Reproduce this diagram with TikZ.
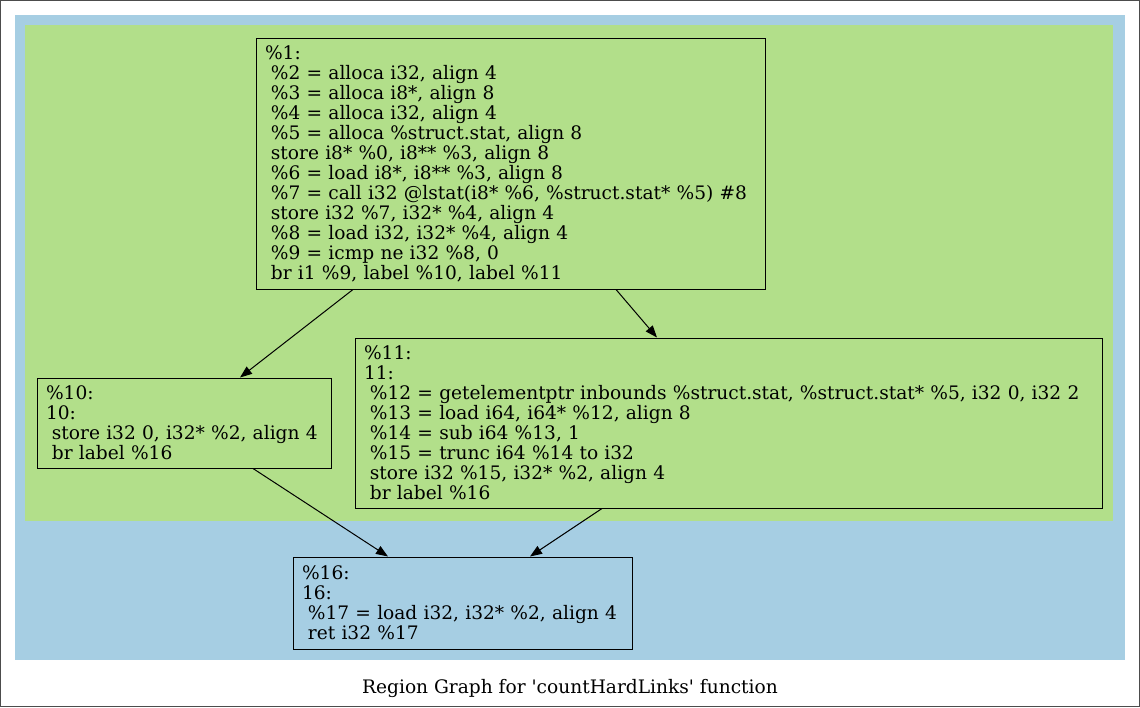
\documentclass[tikz,border=0pt]{standalone}
\usepackage{fontspec}
\setmainfont{DejaVu Serif}
\usetikzlibrary{arrows.meta}
\definecolor{regblue}{HTML}{A6CEE3}
\definecolor{reggreen}{HTML}{B2DF8A}
\tikzset{
  block/.style={draw=black, line width=1pt, rectangle, align=left, inner xsep=9pt, inner ysep=0pt,
    font=\fontsize{18.6}{20}\selectfont, anchor=center},
  flow/.style={draw=black, line width=1pt, -{Triangle[length=12pt,width=9pt]}},
}
\newcommand{\ind}{\hspace*{0.32em}}
\begin{document}
\begin{tikzpicture}[x=1pt,y=-1pt]
\useasboundingbox (0,0) rectangle (1140,707);
\draw[line width=1pt, draw=black!70, fill=white] (0.5,0.5) rectangle (1139.5,706.5);
\fill[regblue] (15,15) rectangle (1125,660);
\fill[reggreen] (25,25) rectangle (1113,521);
\node[block, fill=reggreen, minimum width=509pt, minimum height=251pt, text width=491pt] (n1) at (510.5,163.5) {%
\%1:\\
\ind\%2 = alloca i32, align 4\\
\ind\%3 = alloca i8*, align 8\\
\ind\%4 = alloca i32, align 4\\
\ind\%5 = alloca \%struct.stat, align 8\\
\ind store i8* \%0, i8** \%3, align 8\\
\ind\%6 = load i8*, i8** \%3, align 8\\
\ind\%7 = call i32 @lstat(i8* \%6, \%struct.stat* \%5) \#8\\
\ind store i32 \%7, i32* \%4, align 4\\
\ind\%8 = load i32, i32* \%4, align 4\\
\ind\%9 = icmp ne i32 \%8, 0\\
\ind br i1 \%9, label \%10, label \%11};
\node[block, fill=reggreen, minimum width=294pt, minimum height=90pt, text width=276pt] (n10) at (184,423) {%
\%10:\\
10:\\
\ind store i32 0, i32* \%2, align 4\\
\ind br label \%16};
\node[block, fill=reggreen, minimum width=747pt, minimum height=170pt, text width=729pt] (n11) at (728.5,423) {%
\%11:\\
11:\\
\ind\%12 = getelementptr inbounds \%struct.stat, \%struct.stat* \%5, i32 0, i32 2\\
\ind\%13 = load i64, i64* \%12, align 8\\
\ind\%14 = sub i64 \%13, 1\\
\ind\%15 = trunc i64 \%14 to i32\\
\ind store i32 \%15, i32* \%2, align 4\\
\ind br label \%16};
\node[block, fill=regblue, minimum width=339pt, minimum height=92pt, text width=321pt] (n16) at (462.5,603) {%
\%16:\\
16:\\
\ind\%17 = load i32, i32* \%2, align 4\\
\ind ret i32 \%17};
\node[font=\fontsize{18.6}{20}\selectfont, inner sep=0pt] (cap) at (570,688) {Region Graph for \textquotesingle countHardLinks\textquotesingle{} function};
\draw[flow] ([xshift=-157.5pt]n1.south) -- ([xshift=56pt]n10.north);
\draw[flow] ([xshift=105.5pt]n1.south) -- ([xshift=-71.5pt]n11.north);
\draw[flow] ([xshift=69pt]n10.south) -- ([xshift=-74.5pt]n16.north);
\draw[flow] ([xshift=-126.5pt]n11.south) -- ([xshift=67.5pt]n16.north);
\end{tikzpicture}
\end{document}
